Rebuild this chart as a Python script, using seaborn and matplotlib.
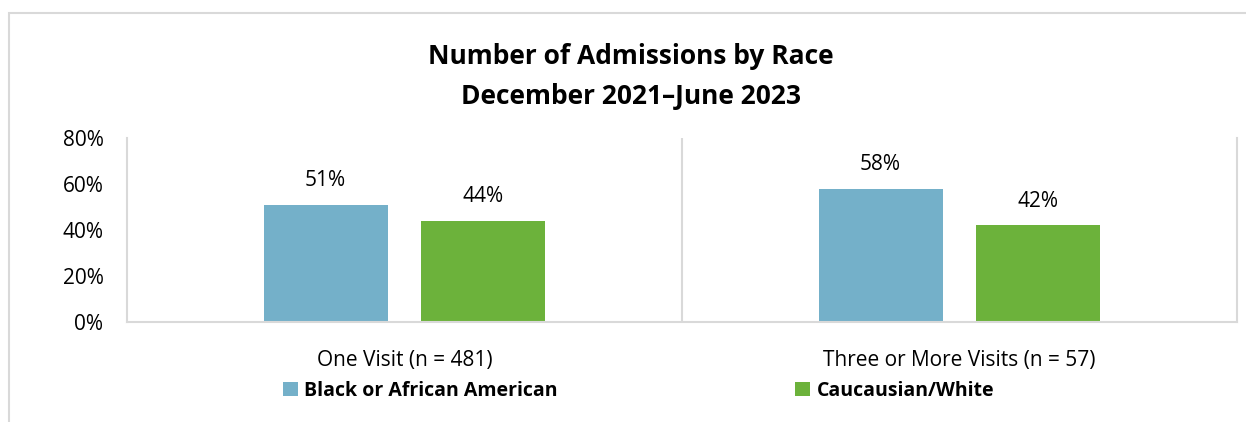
import matplotlib
matplotlib.use("Agg")
import matplotlib.pyplot as plt
from matplotlib.patches import Rectangle
import seaborn as sns
import pandas as pd

# Admissions share by race, per visit group
categories = ["One Visit (n = 481)", "Three or More Visits (n = 57)"]
races = ["Black or African American", "Caucausian/White"]
black_share = [0.51, 0.58]
white_share = [0.44, 0.42]
y_ticks = [0.0, 0.2, 0.4, 0.6, 0.8]
title_lines = ["Number of Admissions by Race", "December 2021\u2013June 2023"]

df = pd.DataFrame({
    "category": categories * 2,
    "race": [races[0]] * 2 + [races[1]] * 2,
    "share": black_share + white_share,
})

sns.set_theme(style="white")
plt.rcParams["font.family"] = ["Open Sans", "DejaVu Sans"]
plt.rcParams["text.color"] = "black"
plt.rcParams["xtick.color"] = "black"
plt.rcParams["ytick.color"] = "black"

W, H = 1246, 422
fig = plt.figure(figsize=(W / 100, H / 100), dpi=100)

# light outer frame
fig.patches.append(Rectangle((9 / W, -0.05), 1.2, (H - 12.5) / H + 0.05,
                             transform=fig.transFigure, fill=False,
                             edgecolor="#D9D9D9", linewidth=1.5))

ax = fig.add_axes([127 / W, (H - 322) / H, (1237 - 127) / W, (322 - 138) / H])
palette = {races[0]: "#74B0C9", races[1]: "#6CB23B"}
sns.barplot(data=df, x="category", y="share", hue="race", hue_order=races,
            order=categories, palette=palette, width=0.569, gap=0.215,
            saturation=1, linewidth=0, ax=ax, legend=True)

ax.set_xlim(-0.5, 1.5)
ax.set_ylim(0, 0.8)
ax.set_yticks(y_ticks)
ax.set_yticklabels([f"{int(round(t * 100))}%" for t in y_ticks])
ax.set_xlabel("")
ax.set_ylabel("")
ax.tick_params(axis="y", labelsize=15, pad=17, length=0, colors="black")
ax.tick_params(axis="x", labelsize=15, pad=20, length=0, colors="black")

for side in ["left", "bottom", "right"]:
    ax.spines[side].set_color("#D9D9D9")
    ax.spines[side].set_linewidth(1.5)
ax.spines["top"].set_visible(False)
ax.axvline(0.5, color="#D9D9D9", linewidth=1.5)

for container in ax.containers:
    ax.bar_label(container, labels=[f"{v * 100:.0f}%" for v in container.datavalues],
                 padding=10, fontsize=15, color="black")

handles, labels = ax.get_legend_handles_labels()
ax.get_legend().remove()
for h, l, xpos in zip(handles, labels, [283 / W, 795 / W]):
    fig.legend([h], [l], loc="center left", bbox_to_anchor=(xpos, (H - 391) / H),
               frameon=False, handlelength=0.75, handleheight=0.75,
               handletextpad=0.35, borderpad=0, borderaxespad=0,
               prop={"size": 14, "weight": "bold"})

fig.text(631 / W, (H - 56) / H, title_lines[0], ha="center", va="center",
         fontsize=19, fontweight="bold")
fig.text(631 / W, (H - 97) / H, title_lines[1], ha="center", va="center",
         fontsize=19, fontweight="bold")

fig.savefig("out.png", dpi=100, facecolor="white")
